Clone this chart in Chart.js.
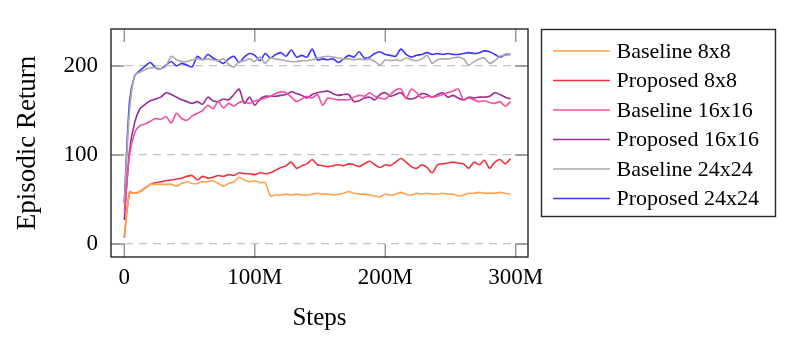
<!DOCTYPE html>
<html>
<head>
<meta charset="utf-8">
<script src="https://cdn.jsdelivr.net/npm/chart.js@4.4.0/dist/chart.umd.min.js"></script>
<style>
  html, body { margin: 0; padding: 0; background: #fff; }
  #wrap { width: 787px; height: 339px; }
</style>
</head>
<body>
<div id="wrap"><canvas id="myChart" width="787" height="339"></canvas></div>
<script>
// Environment steps, in millions
const steps = [0, 4, 8, 12, 16, 20, 24, 28, 32, 36,
  40, 44, 48, 52, 56, 60, 64, 68, 72, 76,
  80, 84, 88, 92, 96, 100, 104, 108, 112, 116,
  120, 124, 128, 132, 136, 140, 144, 148, 152, 156,
  160, 164, 168, 172, 176, 180, 184, 188, 192, 196,
  200, 204, 208, 212, 216, 220, 224, 228, 232, 236,
  240, 244, 248, 252, 256, 260, 264, 268, 272, 276,
  280, 284, 288, 292, 296];

// Episodic return per run
const baseline8 = [8, 57, 57, 59, 63, 67, 67, 67, 67, 67,
  65, 68, 70, 68, 68, 70, 70, 71, 68, 65,
  68, 70, 75, 72, 70, 71, 69, 69, 54, 55,
  55, 56, 55, 56, 55, 55, 56, 57, 56, 56,
  55, 56, 57, 59, 57, 56, 56, 55, 54, 53,
  56, 55, 56, 58, 56, 55, 57, 56, 57, 56,
  56, 57, 56, 56, 54, 55, 57, 57, 58, 57,
  57, 57, 58, 57, 56];
const proposed8 = [7, 58, 57, 59, 63, 67, 69, 70, 71, 72,
  73, 74, 76, 77, 72, 76, 74, 75, 77, 76,
  78, 77, 80, 79, 79, 78, 80, 79, 80, 83,
  86, 88, 92, 85, 88, 90, 95, 89, 88, 87,
  88, 89, 88, 90, 89, 87, 90, 93, 89, 86,
  89, 88, 92, 96, 92, 87, 85, 89, 86, 80,
  89, 90, 91, 92, 91, 90, 85, 92, 89, 94,
  85, 92, 95, 90, 96];
const baseline16 = [35, 100, 125, 133, 135, 138, 141, 140, 143, 136,
  147, 141, 139, 144, 147, 150, 156, 152, 160, 153,
  158, 155, 159, 160, 158, 161, 162, 164, 166, 169,
  171, 170, 165, 160, 163, 166, 164, 168, 156, 164,
  163, 162, 162, 162, 165, 167, 166, 170, 166, 164,
  163, 168, 173, 174, 164, 174, 170, 164, 166, 165,
  166, 168, 170, 172, 174, 162, 164, 162, 160, 161,
  159, 158, 160, 155, 160];
const proposed16 = [27, 105, 137, 152, 157, 161, 163, 165, 170, 168,
  165, 162, 160, 158, 160, 157, 165, 161, 160, 163,
  162, 168, 174, 158, 165, 156, 163, 166, 166, 166,
  167, 168, 171, 169, 167, 164, 168, 170, 171, 172,
  169, 167, 168, 168, 160, 161, 164, 165, 162, 168,
  170, 166, 168, 170, 164, 163, 165, 169, 168, 165,
  168, 170, 165, 167, 164, 162, 165, 164, 165, 165,
  166, 170, 168, 165, 163];
const baseline24 = [45, 150, 190, 193, 196, 198, 198, 197, 200, 211,
  207, 205, 205, 207, 208, 207, 208, 207, 206, 208,
  202, 199, 205, 206, 208, 205, 210, 203, 209, 208,
  207, 206, 205, 205, 206, 206, 207, 209, 210, 211,
  210, 209, 208, 208, 207, 208, 207, 208, 205, 201,
  207, 206, 207, 206, 209, 207, 206, 208, 212, 203,
  207, 208, 208, 209, 210, 208, 201, 205, 208, 209,
  203, 206, 211, 212, 213];
const proposed24 = [47, 160, 189, 195, 200, 204, 198, 197, 201, 205,
  200, 203, 201, 199, 211, 207, 213, 209, 206, 203,
  208, 211, 204, 210, 214, 212, 206, 214, 209, 213,
  215, 211, 218, 210, 212, 210, 219, 207, 208, 207,
  208, 204, 208, 212, 210, 216, 209, 210, 214, 216,
  213, 212, 211, 219, 213, 210, 212, 213, 215, 213,
  214, 213, 214, 213, 213, 214, 215, 214, 215, 217,
  216, 213, 210, 213, 213];

const etiquetas = ['Baseline 8x8', 'Proposed 8x8', 'Baseline 16x16',
  'Proposed 16x16', 'Baseline 24x24', 'Proposed 24x24'];
const series = [baseline8, proposed8, baseline16, proposed16, baseline24, proposed24];
const colores = ['#ffa24e', '#f0323e', '#f2509e', '#9a2c96', '#aaaaaa', '#3a34ff'];

const xTicks = [0, 100, 200, 300];
const yTicks = [0, 100, 200];

const serif = "'Liberation Serif', 'DejaVu Serif', serif";

const datasets = series.map((vals, i) => ({
  label: etiquetas[i],
  data: vals.map((v, j) => ({ x: steps[j], y: v })),
  borderColor: colores[i],
  borderWidth: 1.6,
  pointRadius: 0,
  tension: 0.25,
  fill: false
}));

// frame, inward ticks and the boxed legend on the right
const marco = {
  id: 'marco',
  afterDatasetsDraw(chart) {
    const { ctx, chartArea: a, scales: { x, y } } = chart;
    ctx.save();
    ctx.strokeStyle = '#8a8a8a';
    ctx.lineWidth = 1.3;
    ctx.beginPath();
    xTicks.forEach(v => {
      const px = x.getPixelForValue(v);
      ctx.moveTo(px, a.bottom); ctx.lineTo(px, a.bottom - 13);
      ctx.moveTo(px, a.top); ctx.lineTo(px, a.top + 13);
    });
    yTicks.forEach(v => {
      const py = y.getPixelForValue(v);
      ctx.moveTo(a.left, py); ctx.lineTo(a.left + 13, py);
      ctx.moveTo(a.right, py); ctx.lineTo(a.right - 13, py);
    });
    ctx.stroke();

    ctx.strokeStyle = '#262626';
    ctx.lineWidth = 1.4;
    ctx.strokeRect(a.left, a.top, a.right - a.left, a.bottom - a.top);

    // legend
    const lx = 541.5, ly = 29.5, lw = 234, lh = 187;
    ctx.strokeRect(lx, ly, lw, lh);
    ctx.font = '22px ' + serif;
    ctx.fillStyle = '#000';
    ctx.textBaseline = 'alphabetic';
    chart.data.datasets.forEach((ds, i) => {
      const base = 57.5 + i * 29.5;
      ctx.strokeStyle = ds.borderColor;
      ctx.lineWidth = 1.6;
      ctx.beginPath();
      ctx.moveTo(553, base - 6.5);
      ctx.lineTo(610, base - 6.5);
      ctx.stroke();
      ctx.fillText(ds.label, 616.5, base);
    });
    ctx.restore();
  }
};

new Chart(document.getElementById('myChart'), {
  type: 'line',
  data: { datasets },
  options: {
    responsive: false,
    animation: false,
    layout: { padding: { left: 0, right: 259, top: 29, bottom: 0 } },
    plugins: { legend: { display: false }, tooltip: { enabled: false } },
    scales: {
      x: {
        type: 'linear',
        min: -10.2,
        max: 309.4,
        afterFit: s => { s.height = 82; },
        afterBuildTicks: s => { s.ticks = xTicks.map(v => ({ value: v })); },
        grid: { display: false, drawTicks: false },
        border: { display: false },
        ticks: {
          padding: 7,
          color: '#000',
          font: { family: serif, size: 23 },
          maxRotation: 0,
          callback: v => (v === 0 ? '0' : v + 'M')
        },
        title: {
          display: true,
          text: 'Steps',
          color: '#000',
          font: { family: serif, size: 25 },
          padding: { top: 0, bottom: 6 }
        }
      },
      y: {
        min: -14.6,
        max: 241.6,
        afterFit: s => { s.width = 111; },
        afterBuildTicks: s => { s.ticks = yTicks.map(v => ({ value: v })); },
        grid: { color: '#c4c4c4', lineWidth: 1.3, drawTicks: false },
        border: { display: false, dash: [8, 6] },
        ticks: {
          padding: 13,
          color: '#000',
          font: { family: serif, size: 23 }
        },
        title: {
          display: true,
          text: 'Episodic Return',
          color: '#000',
          font: { family: serif, size: 27 },
          padding: { top: 12, bottom: 0 }
        }
      }
    }
  },
  plugins: [marco]
});
</script>
</body>
</html>
